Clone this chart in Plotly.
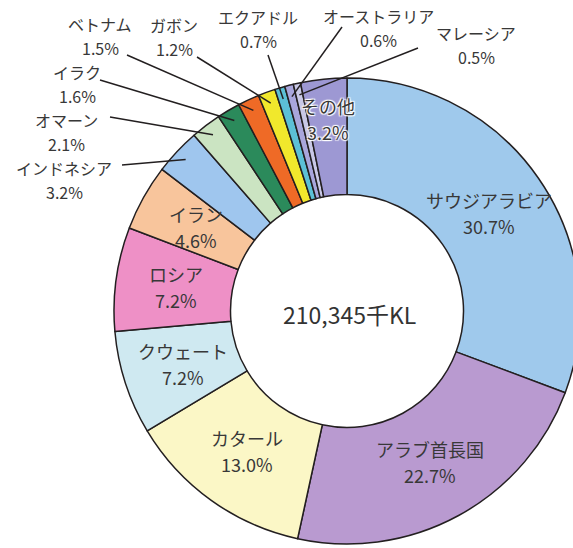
import math
import plotly.graph_objects as go

# ---- data ----
countries = ["サウジアラビア", "アラブ首長国", "カタール", "クウェート", "ロシア", "イラン",
             "インドネシア", "オマーン", "イラク", "ベトナム", "ガボン", "エクアドル",
             "オーストラリア", "マレーシア", "その他"]
shares = [30.7, 22.7, 13.0, 7.2, 7.2, 4.6, 3.2, 2.1, 1.6, 1.5, 1.2, 0.7, 0.6, 0.5, 3.2]
colors = ["#9fc9ec", "#b99ad0", "#fbf7c6", "#cfe9f1", "#ee90c6", "#f8c59c",
          "#9fc6ee", "#cbe4c2", "#2b8a5b", "#ef6a26", "#f1e82c", "#5cc0d6",
          "#a9a6dc", "#c9c8e6", "#9d98d3"]
total_label = "210,345千KL"

# ---- layout constants ----
W, H = 590, 548          # page shows the left 573 px, like the cropped original
CX, CY, R = 347, 311, 233
HOLE = 0.5
FONT = "Noto Sans CJK JP"
TXT = "#383838"

inside = {"サウジアラビア", "アラブ首長国", "カタール", "クウェート", "ロシア", "イラン", "その他"}
# outside label text centre and leader start, in pixels
outside_pos = {
    "インドネシア": ((64, 180), (122, 165)),
    "オマーン": ((66, 132), (110, 117)),
    "イラク": ((77, 84), (100, 80)),
    "ベトナム": ((100, 36), (127, 55)),
    "ガボン": ((174, 37), (197, 57)),
    "エクアドル": ((258, 29), (268, 55)),
    "オーストラリア": ((378, 28), (342, 27)),
    "マレーシア": ((476, 45), (418, 48)),
}


def px(x):
    return x / W


def py(y):
    return 1 - y / H


def slice_point(i, r):
    before = sum(shares[:i])
    theta = math.radians((before + shares[i] / 2) / sum(shares) * 360)
    return CX + r * math.sin(theta), CY - r * math.cos(theta)


fig = go.Figure(go.Pie(
    labels=countries, values=shares, sort=False, direction="clockwise", rotation=0,
    hole=HOLE, textinfo="none", hoverinfo="label+percent",
    marker=dict(colors=colors, line=dict(color="#231f20", width=1.5)),
    domain=dict(x=[(CX - R) / W, (CX + R) / W], y=[1 - (CY + R) / H, 1 - (CY - R) / H]),
    showlegend=False,
))

annotations = []
shapes = []


def add_label(x, y, name, v, font, gap):
    for txt, dy in ((name, -gap / 2), (f"{v:.1f}%", gap / 2)):
        annotations.append(dict(x=px(x), y=py(y + dy), xref="paper", yref="paper", text=txt,
                                xanchor="center", yanchor="middle", showarrow=False, font=font))


for i, (name, v) in enumerate(zip(countries, shares)):
    if name in inside:
        rr = 0.74 * R if name != "その他" else 0.83 * R
        x, y = slice_point(i, rr)
        font = dict(family=FONT, size=18, color=TXT)
        if name == "その他":
            font["shadow"] = "1px 1px 1px #fff, -1px -1px 1px #fff, 1px -1px 1px #fff, -1px 1px 1px #fff"
        add_label(x, y, name, v, font, 26)
    else:
        (tx, ty), (sx, sy) = outside_pos[name]
        ex, ey = slice_point(i, 0.95 * R)
        add_label(tx, ty, name, v, dict(family=FONT, size=16, color=TXT), 24)
        shapes.append(dict(type="line", xref="paper", yref="paper", x0=px(sx), y0=py(sy),
                           x1=px(ex), y1=py(ey), line=dict(color="#231f20", width=1.5)))

annotations.append(dict(x=px(CX + 2), y=py(CY + 3), xref="paper", yref="paper", text=total_label,
                        xanchor="center", yanchor="middle",
                        showarrow=False, font=dict(family=FONT, size=23, color="#333")))

fig.update_layout(width=W, height=H, margin=dict(l=0, r=0, t=0, b=0),
                  paper_bgcolor="white", plot_bgcolor="white",
                  annotations=annotations, shapes=shapes)
fig.write_html("out.html", config={"displayModeBar": False}, post_script=(
    "document.body.style.margin='0';"
    "document.body.style.overflow='hidden';"
    "document.documentElement.style.overflow='hidden';"))
